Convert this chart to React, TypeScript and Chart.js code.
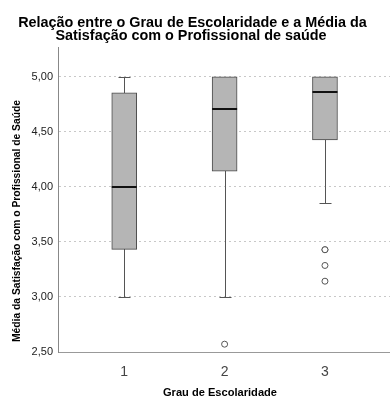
import React, { useEffect, useRef } from "react";
import { Chart, registerables } from "chart.js";

Chart.register(...registerables);

const categories = ["1", "2", "3"];
const positions = [1, 2, 3];
const whiskerLow = [3.0, 3.0, 3.857];
const q1 = [3.432, 4.143, 4.426];
const median = [4.0, 4.711, 4.857];
const q3 = [4.854, 5.0, 5.0];
const whiskerHigh = [5.0, 5.0, 5.0];
const outlierGroups = [2, 3, 3, 3, 3];
const outlierValues = [2.571, 3.429, 3.429, 3.286, 3.143];
const yTicks = [2.5, 3.0, 3.5, 4.0, 4.5, 5.0];
const titleLines = [
  "Relação entre o Grau de Escolaridade e a Média da",
  "Satisfação com o Profissional de saúde",
];
const yTitle = "Média da Satisfação com o Profissional de Saúde";
const xTitle = "Grau de Escolaridade";

const SANS = "'Liberation Sans', Arial, sans-serif";

function fitText(ctx: any, text: string, x: number, y: number, width: number) {
  const w = ctx.measureText(text).width;
  const s = width / w;
  ctx.save();
  ctx.translate(x, y);
  ctx.scale(s, 1);
  ctx.fillText(text, 0, 0);
  ctx.restore();
}

const boxPlugin = {
  id: "boxWhiskers",
  beforeDatasetsDraw(chart: any) {
    const { ctx, scales } = chart;
    const x = scales.x;
    const y = scales.y;
    ctx.save();
    ctx.strokeStyle = "#555555";
    ctx.lineWidth = 1;
    positions.forEach((p, i) => {
      const cx = Math.round(x.getPixelForValue(p)) + 0.5;
      const yl = Math.round(y.getPixelForValue(whiskerLow[i])) + 0.5;
      const yh = Math.round(y.getPixelForValue(whiskerHigh[i])) + 0.5;
      ctx.beginPath();
      ctx.moveTo(cx, yl);
      ctx.lineTo(cx, yh);
      ctx.moveTo(cx - 6, yl);
      ctx.lineTo(cx + 6, yl);
      ctx.moveTo(cx - 6, yh);
      ctx.lineTo(cx + 6, yh);
      ctx.stroke();
    });
    ctx.restore();
  },
  afterDatasetsDraw(chart: any) {
    const { ctx, scales } = chart;
    const x = scales.x;
    const y = scales.y;
    ctx.save();
    ctx.strokeStyle = "#111111";
    ctx.lineWidth = 2;
    positions.forEach((p, i) => {
      const cx = x.getPixelForValue(p);
      const ym = Math.round(y.getPixelForValue(median[i]));
      ctx.beginPath();
      ctx.moveTo(cx - 12.5, ym);
      ctx.lineTo(cx + 12.5, ym);
      ctx.stroke();
    });
    ctx.restore();
  },
  afterDraw(chart: any) {
    const { ctx } = chart;
    ctx.save();
    ctx.fillStyle = "#000000";
    ctx.textAlign = "center";
    ctx.textBaseline = "alphabetic";
    ctx.font = `bold 14.4px ${SANS}`;
    ctx.fillText(titleLines[0], 192.5, 26.5);
    ctx.fillText(titleLines[1], 191, 40);

    ctx.font = `bold 11.5px ${SANS}`;
    fitText(ctx, xTitle, 220, 396, 114);

    ctx.translate(19.5, 221);
    ctx.rotate(-Math.PI / 2);
    fitText(ctx, yTitle, 0, 0, 242);
    ctx.restore();
  },
};

export default function App() {
  const ref = useRef<HTMLCanvasElement | null>(null);

  useEffect(() => {
    document.body.style.margin = "0";
    const canvas = ref.current;
    if (!canvas) return;
    const chart = new Chart(canvas, {
      type: "bar",
      data: {
        datasets: [
          {
            type: "bar",
            label: "box",
            data: positions.map((p, i) => ({ x: p, y: [q1[i], q3[i]] })) as any,
            backgroundColor: "#b5b5b5",
            borderColor: "#4a4a4a",
            borderWidth: 1,
            borderSkipped: false,
            barThickness: 25,
          } as any,
          {
            type: "scatter",
            label: "outliers",
            data: outlierGroups.map((g, i) => ({ x: g, y: outlierValues[i] })),
            pointRadius: 3,
            pointBackgroundColor: "#ffffff",
            pointBorderColor: "#555555",
            pointBorderWidth: 1,
            showLine: false,
          } as any,
        ],
      },
      options: {
        animation: false,
        responsive: false,
        devicePixelRatio: 1,
        layout: { autoPadding: false, padding: { top: 47, left: 0, right: 0, bottom: 0 } },
        plugins: {
          legend: { display: false },
          tooltip: { enabled: false },
          title: { display: false },
        },
        scales: {
          x: {
            type: "linear",
            offset: false,
            min: 0.34,
            max: 3.648,
            afterBuildTicks: (scale: any) => {
              scale.ticks = positions.map((v) => ({ value: v }));
            },
            afterFit: (scale: any) => {
              scale.height = 46;
            },
            ticks: {
              callback: (v: any) => {
                const idx = positions.indexOf(Number(v));
                return idx >= 0 ? categories[idx] : "";
              },
              font: { family: SANS, size: 14 },
              color: "#444444",
              padding: 4,
              maxRotation: 0,
              autoSkip: false,
            },
            grid: { display: false, offset: false },
            border: { display: true, color: "#999999", width: 1 },
          },
          y: {
            type: "linear",
            min: 2.5,
            max: 5.27,
            afterBuildTicks: (scale: any) => {
              scale.ticks = yTicks.map((v) => ({ value: v }));
            },
            afterFit: (scale: any) => {
              scale.width = 58;
            },
            ticks: {
              callback: (v: any) => Number(v).toFixed(2).replace(".", ","),
              font: { family: SANS, size: 11 },
              color: "#222222",
              padding: 5,
            },
            grid: {
              drawTicks: false,
              color: (ctx: any) => (ctx.tick && ctx.tick.value === 2.5 ? "rgba(0,0,0,0)" : "#c8c8c8"),
              lineWidth: 1,
            },
            border: { display: true, color: "#888888", width: 1, dash: [2, 3] },
          },
        },
      } as any,
      plugins: [boxPlugin],
    });
    return () => chart.destroy();
  }, []);

  return (
    <div style={{ width: 390, height: 398 }}>
      <canvas ref={ref} width={390} height={398} />
    </div>
  );
}
